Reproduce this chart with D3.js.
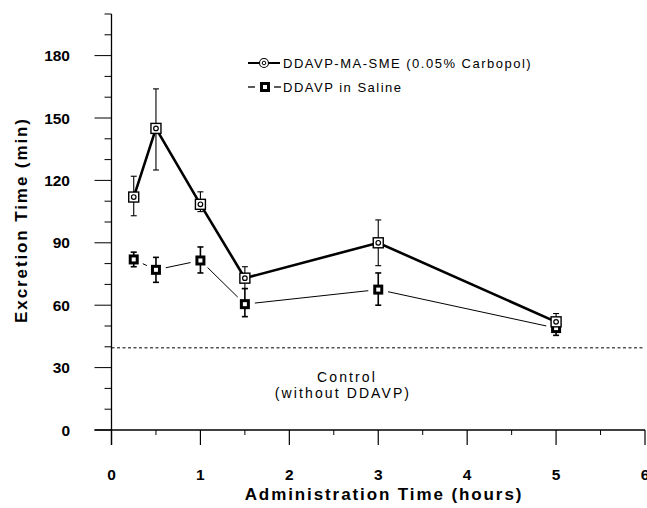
<!DOCTYPE html>
<html><head><meta charset="utf-8">
<script src="https://cdn.jsdelivr.net/npm/d3@7"></script>
<style>
body{margin:0;background:#fff;}
svg{display:block;}
</style></head>
<body>
<svg id="c" width="647" height="508"></svg>
<script>
const hours = [0.25, 0.5, 1, 1.5, 3, 5];
const smeMean = [112, 145, 108.5, 73, 90, 52];
const smeLow  = [103, 125, 105, 68, 79, 47];
const smeHigh = [122, 164, 114.5, 78.5, 101, 56];
const salMean = [82, 77, 81.5, 60.5, 67.5, 49];
const salLow  = [78.5, 71, 75.5, 54.5, 60, 45.5];
const salHigh = [85.5, 83, 88, 68, 75.5, 52];
const controlValue = 39.5;
const xTicks = [0, 1, 2, 3, 4, 5, 6];
const yTicks = [0, 30, 60, 90, 120, 150, 180];
const legendLabels = ["DDAVP-MA-SME (0.05% Carbopol)", "DDAVP in Saline"];
const controlLabel = ["Control", "(without DDAVP)"];
const xTitle = "Administration Time (hours)";
const yTitle = "Excretion Time (min)";

const svg = d3.select("#c");
const x = d3.scaleLinear().domain([0, 6]).range([111.5, 645]);
const y = d3.scaleLinear().domain([0, 200]).range([430, 14]);
const font = "'Liberation Sans', Arial, sans-serif";

// Y axis
const gy = svg.append("g").attr("transform", `translate(${x(0)},0)`);
gy.append("line").attr("x1",0).attr("x2",0).attr("y1",y(200)).attr("y2",y(0)+15).attr("stroke","#000").attr("stroke-width",1.3);
gy.call(g => {
  const minor = d3.range(0, 201, 10).filter(v => v % 30 !== 0);
  g.selectAll(".mn").data(minor).join("line").attr("x1",-7).attr("x2",0)
    .attr("y1", d=>y(d)).attr("y2", d=>y(d)).attr("stroke","#000").attr("stroke-width",1);
  g.selectAll(".mj").data(yTicks).join("line").attr("x1",-17).attr("x2",0)
    .attr("y1", d=>y(d)).attr("y2", d=>y(d)).attr("stroke","#000").attr("stroke-width",1);
});
svg.append("g").selectAll("text").data(yTicks).join("text")
  .attr("x", 70).attr("y", d => y(d) + 5.5).attr("text-anchor","end")
  .attr("font-family", font).attr("font-weight","bold").attr("font-size",15.5)
  .text(d => d);

// X axis
const gx = svg.append("g").attr("transform", `translate(0,${y(0)})`);
gx.append("line").attr("x1", x(0)-17).attr("x2", x(6)).attr("y1",0).attr("y2",0).attr("stroke","#000").attr("stroke-width",1.3);
gx.selectAll(".mn").data(d3.range(0.5, 6, 1)).join("line")
  .attr("x1", d=>x(d)).attr("x2", d=>x(d)).attr("y1",0).attr("y2",5).attr("stroke","#000").attr("stroke-width",1);
gx.selectAll(".mj").data(xTicks).join("line")
  .attr("x1", d=>x(d)).attr("x2", d=>x(d)).attr("y1",0).attr("y2",15).attr("stroke","#000").attr("stroke-width",1.2);
svg.append("g").selectAll("text").data(xTicks).join("text")
  .attr("x", d => x(d)).attr("y", 480).attr("text-anchor","middle")
  .attr("font-family", font).attr("font-weight","bold").attr("font-size",15.5)
  .text(d => d);

// Titles
svg.append("text").attr("x", 384).attr("y", 500).attr("text-anchor","middle")
  .attr("font-family", font).attr("font-weight","bold").attr("font-size",17)
  .attr("letter-spacing", 1.9).text(xTitle);
svg.append("text").attr("transform","translate(27,220) rotate(-90)").attr("text-anchor","middle")
  .attr("font-family", font).attr("font-weight","bold").attr("font-size",17)
  .attr("letter-spacing", 1.9).text(yTitle);

// Control line
svg.append("line").attr("x1", x(0)).attr("x2", x(6)).attr("y1", y(controlValue)).attr("y2", y(controlValue))
  .attr("stroke","#000").attr("stroke-width",1).attr("stroke-dasharray","3,2.5");
svg.append("g").selectAll("text").data(controlLabel).join("text")
  .attr("x", (d,i) => i === 0 ? 347 : 343).attr("y", (d,i) => 382 + i*16).attr("text-anchor","middle")
  .attr("font-family", font).attr("font-size",14).attr("letter-spacing",2.1)
  .text(d => d);

// Series helpers
function pts(means){ return hours.map((h,i)=>({x:x(h), y:y(means[i])})); }
const sme = pts(smeMean), sal = pts(salMean);

// Saline line (thin with gaps near markers)
const gap = 10;
for (let i = 0; i < sal.length - 1; i++) {
  const a = sal[i], b = sal[i+1];
  const dx = b.x - a.x, dy = b.y - a.y, L = Math.hypot(dx, dy);
  if (L <= 2*gap) continue;
  const ux = dx/L, uy = dy/L;
  svg.append("line").attr("x1", a.x + ux*gap).attr("y1", a.y + uy*gap)
    .attr("x2", b.x - ux*gap).attr("y2", b.y - uy*gap)
    .attr("stroke","#000").attr("stroke-width",1);
}
// SME line
svg.append("path").datum(sme).attr("fill","none").attr("stroke","#000").attr("stroke-width",2.6)
  .attr("stroke-linejoin","miter")
  .attr("d", d3.line().x(d=>d.x).y(d=>d.y));

// Error bars
function errBars(lo, hi, w) {
  const g = svg.append("g").attr("stroke","#000").attr("stroke-width", w);
  hours.forEach((h,i) => {
    g.append("line").attr("x1",x(h)).attr("x2",x(h)).attr("y1",y(lo[i])).attr("y2",y(hi[i]));
    g.append("line").attr("x1",x(h)-3).attr("x2",x(h)+3).attr("y1",y(lo[i])).attr("y2",y(lo[i]));
    g.append("line").attr("x1",x(h)-3).attr("x2",x(h)+3).attr("y1",y(hi[i])).attr("y2",y(hi[i]));
  });
}
errBars(salLow, salHigh, 1.6);
errBars(smeLow, smeHigh, 1.1);

// Markers
function salMarker(g, cx, cy) {
  g.append("rect").attr("x",cx-5).attr("y",cy-5).attr("width",10).attr("height",10).attr("fill","#000");
  g.append("rect").attr("x",cx-2).attr("y",cy-2).attr("width",4).attr("height",4).attr("fill","#fff");
}
function smeMarker(g, cx, cy) {
  g.append("rect").attr("x",cx-5).attr("y",cy-5).attr("width",10).attr("height",10)
    .attr("fill","#fff").attr("stroke","#000").attr("stroke-width",1.4);
  g.append("circle").attr("cx",cx).attr("cy",cy).attr("r",2.3).attr("fill","none").attr("stroke","#000").attr("stroke-width",1.2);
}
const mg = svg.append("g");
sal.forEach(p => salMarker(mg, p.x, p.y));
sme.forEach(p => smeMarker(mg, p.x, p.y));

// Legend
const lg = svg.append("g");
lg.append("line").attr("x1",248).attr("x2",280).attr("y1",63).attr("y2",63).attr("stroke","#000").attr("stroke-width",2);
lg.append("rect").attr("x",259).attr("y",58).attr("width",10).attr("height",10).attr("fill","#fff");
lg.append("circle").attr("cx",264).attr("cy",63).attr("r",4.5).attr("fill","#fff").attr("stroke","#000").attr("stroke-width",1.1);
lg.append("circle").attr("cx",264).attr("cy",63).attr("r",1.8).attr("fill","none").attr("stroke","#000").attr("stroke-width",1);
lg.append("line").attr("x1",248).attr("x2",255).attr("y1",87).attr("y2",87).attr("stroke","#000").attr("stroke-width",1.3);
lg.append("line").attr("x1",274).attr("x2",281).attr("y1",87).attr("y2",87).attr("stroke","#000").attr("stroke-width",1.3);
salMarker(lg, 265, 87);
lg.selectAll("text").data(legendLabels).join("text")
  .attr("x", 283).attr("y", (d,i) => 68 + i*24)
  .attr("font-family", font).attr("font-size",13).attr("letter-spacing",1.5)
  .text(d => d);
</script>
</body></html>
